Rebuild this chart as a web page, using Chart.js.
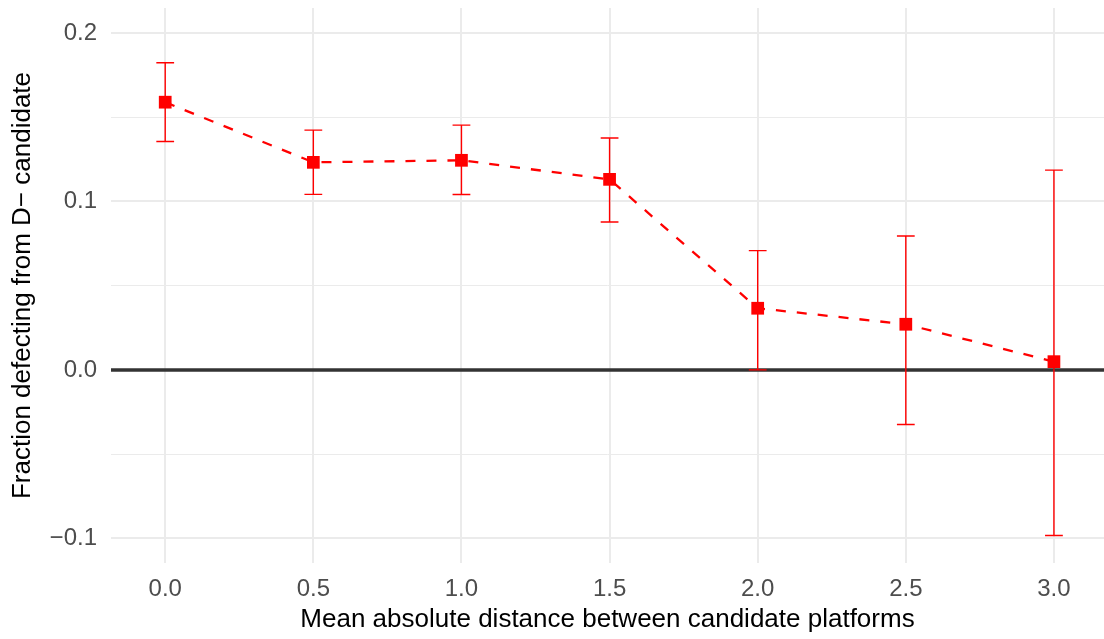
<!DOCTYPE html>
<html>
<head>
<meta charset="utf-8">
<script src="https://cdn.jsdelivr.net/npm/chart.js@4/dist/chart.umd.min.js"></script>
<style>
html,body{margin:0;padding:0;background:#fff;}
#wrap{width:1104px;height:639px;}
</style>
</head>
<body>
<div id="wrap"><canvas id="c" width="1104" height="639"></canvas></div>
<script>
// ---- data ----
const xValues = [0.0, 0.5, 1.0, 1.5, 2.0, 2.5, 3.0];
const estimates = [0.1589, 0.1232, 0.1244, 0.1131, 0.0366, 0.0271, 0.0049];
const upperCI = [0.1823, 0.1423, 0.1453, 0.1376, 0.0708, 0.0795, 0.1186];
const lowerCI = [0.1356, 0.1042, 0.1041, 0.0878, 0.0000, -0.0324, -0.0983];
const xTicks = [0.0, 0.5, 1.0, 1.5, 2.0, 2.5, 3.0];
const xTickLabels = ['0.0', '0.5', '1.0', '1.5', '2.0', '2.5', '3.0'];
const yTicks = [-0.1, 0.0, 0.1, 0.2];
const yTickLabels = ['\u22120.1', '0.0', '0.1', '0.2'];
const yMinorTicks = [-0.05, 0.05, 0.15];
const refLineY = 0;
const xTitle = 'Mean absolute distance between candidate platforms';
const yTitle = 'Fraction defecting from D\u2212 candidate';

// ---- style ----
const RED = '#FF0000';
const GRID = '#EBEBEB';
const FONT = 'Liberation Sans, Arial, sans-serif';
const capHalf = 0.03;

const allYTicks = yTicks.concat(yMinorTicks).sort((a,b)=>a-b);
const isMajorY = v => yTicks.some(t => Math.abs(t - v) < 1e-9);

const errorBars = {
  id: 'errorBars',
  beforeDatasetsDraw(chart) {
    const {ctx, chartArea, scales: {x, y}} = chart;
    ctx.save();
    // reference line
    const y0 = y.getPixelForValue(refLineY);
    ctx.strokeStyle = '#333333';
    ctx.lineWidth = 3.5;
    ctx.beginPath();
    ctx.moveTo(chartArea.left, y0);
    ctx.lineTo(chartArea.right, y0);
    ctx.stroke();
    // error bars
    ctx.strokeStyle = RED;
    ctx.lineWidth = 1.4;
    xValues.forEach((xv, i) => {
      const px = x.getPixelForValue(xv);
      const l = x.getPixelForValue(xv - capHalf);
      const r = x.getPixelForValue(xv + capHalf);
      const yu = y.getPixelForValue(upperCI[i]);
      const yl = y.getPixelForValue(lowerCI[i]);
      ctx.beginPath();
      ctx.moveTo(px, yu); ctx.lineTo(px, yl);
      ctx.moveTo(l, yu); ctx.lineTo(r, yu);
      ctx.moveTo(l, yl); ctx.lineTo(r, yl);
      ctx.stroke();
    });
    ctx.restore();
  }
};

new Chart(document.getElementById('c'), {
  type: 'line',
  data: {
    datasets: [{
      data: xValues.map((xv, i) => ({x: xv, y: estimates[i]})),
      borderColor: RED,
      borderWidth: 2.3,
      borderDash: [10, 11],
      tension: 0,
      fill: false,
      pointStyle: 'rect',
      pointRadius: 9,
      pointBackgroundColor: RED,
      pointBorderWidth: 0,
      pointHoverRadius: 9,
      clip: false
    }]
  },
  options: {
    responsive: false,
    devicePixelRatio: 1,
    animation: false,
    events: [],
    layout: {autoPadding: false, padding: {top: 8, right: 0, left: 0, bottom: 0}},
    plugins: {legend: {display: false}, tooltip: {enabled: false}},
    scales: {
      x: {
        type: 'linear',
        min: -0.183,
        max: 3.169,
        afterBuildTicks: s => { s.ticks = xTicks.map(v => ({value: v})); },
        afterFit: s => { s.height = 76; s.paddingLeft = 0; s.paddingRight = 0; },
        ticks: {
          callback: (v) => { const i = xTicks.findIndex(t => Math.abs(t - v) < 1e-9); return i >= 0 ? xTickLabels[i] : ''; },
          color: '#4D4D4D',
          font: {family: FONT, size: 24},
          padding: 12,
          maxRotation: 0,
          autoSkip: false
        },
        grid: {color: GRID, lineWidth: 2, drawTicks: false},
        border: {display: false},
        title: {
          display: true,
          text: xTitle,
          color: '#000000',
          font: {family: FONT, size: 26},
          padding: {top: 0, bottom: 3.4}
        }
      },
      y: {
        type: 'linear',
        min: -0.1146,
        max: 0.2148,
        afterBuildTicks: s => { s.ticks = allYTicks.map(v => ({value: v})); },
        afterFit: s => { s.width = 111; s.paddingTop = 0; s.paddingBottom = 0; },
        ticks: {
          callback: (v) => { const i = yTicks.findIndex(t => Math.abs(t - v) < 1e-9); return i >= 0 ? yTickLabels[i] : ''; },
          color: '#4D4D4D',
          font: {family: FONT, size: 24},
          padding: 14,
          autoSkip: false
        },
        grid: {
          color: GRID,
          lineWidth: ctx => (ctx.tick && isMajorY(ctx.tick.value)) ? 2 : 1,
          drawTicks: false
        },
        border: {display: false},
        title: {
          display: true,
          text: yTitle,
          color: '#000000',
          font: {family: FONT, size: 26},
          padding: {top: 7.3, bottom: 0}
        }
      }
    }
  },
  plugins: [errorBars]
});
</script>
</body>
</html>
